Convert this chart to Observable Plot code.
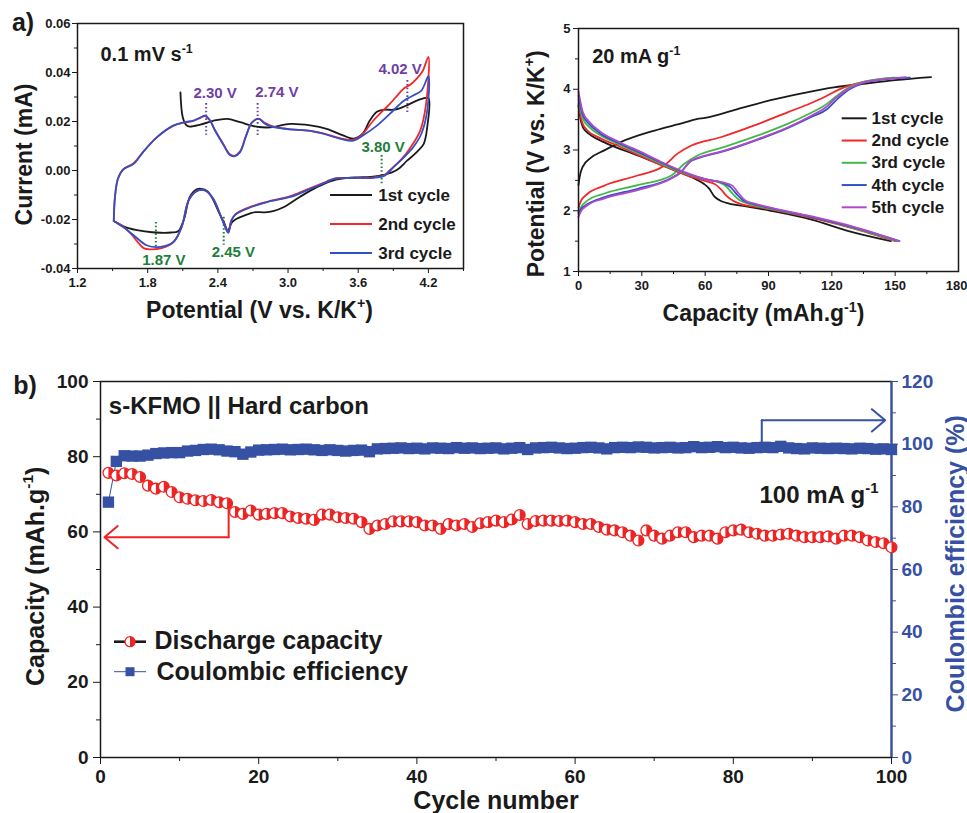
<!DOCTYPE html>
<html><head><meta charset="utf-8">
<script src="https://cdn.jsdelivr.net/npm/d3@7"></script>
<script src="https://cdn.jsdelivr.net/npm/@observablehq/plot@0.6"></script>
<style>
body{margin:0;background:#fff;}
#wrap{position:relative;width:967px;height:813px;background:#fff;}
#wrap > div{position:absolute;}
</style></head><body>
<div id="wrap">
<div id="pa" style="left:0;top:0;width:480px;height:330px"></div>
<div id="pb" style="left:480px;top:0;width:487px;height:330px"></div>
<div id="pc" style="left:0;top:345px;width:967px;height:468px"></div>
</div>
<script>
// ---------- Panel a (left): cyclic voltammetry ----------
const cvLabels = ["1st cycle", "2nd cycle", "3rd cycle"];
const cvColors = ["#1a1a1a", "#f0282a", "#3050c8"];
const cv1 = [[2.08,0.0319],[2.10,0.0217],[2.13,0.0185],[2.16,0.0179],[2.25,0.0187],[2.36,0.0203],[2.48,0.0211],[2.59,0.0197],[2.73,0.0179],[2.85,0.0176],[3.02,0.0190],[3.19,0.0184],[3.33,0.0170],[3.47,0.0143],[3.56,0.0130],[3.64,0.0152],[3.70,0.0205],[3.76,0.0240],[3.82,0.0248],[3.90,0.0248],[3.96,0.0255],[4.02,0.0267],[4.10,0.0285],[4.15,0.0293],[4.20,0.0296],
  [4.19,0.0178],[4.16,0.0109],[4.10,0.0075],[4.02,0.0041],[3.93,0.0002],[3.82,-0.0018],[3.70,-0.0026],[3.60,-0.0028],[3.50,-0.0031],[3.39,-0.0040],[3.25,-0.0067],[3.10,-0.0108],[2.96,-0.0150],[2.88,-0.0165],[2.80,-0.0171],[2.72,-0.0170],[2.62,-0.0185],[2.55,-0.0200],[2.52,-0.0212],[2.485,-0.0245],[2.455,-0.0215],[2.41,-0.0172],[2.36,-0.0120],[2.31,-0.0084],[2.26,-0.0075],[2.22,-0.0077],[2.16,-0.0108],[2.11,-0.0200],[2.06,-0.0248],[2.00,-0.0253],[1.91,-0.0254],[1.76,-0.0247],[1.62,-0.0233],[1.51,-0.0206]];
const cv2 = [[1.51,-0.0206],[1.52,-0.0110],[1.545,-0.0035],[1.59,0.0005],[1.68,0.0030],[1.76,0.0075],[1.88,0.0136],[2.02,0.0183],[2.11,0.0195],[2.19,0.0202],[2.25,0.0215],[2.29,0.0222],[2.33,0.0205],[2.38,0.0160],[2.45,0.0105],[2.50,0.0068],[2.54,0.0060],[2.59,0.0078],[2.64,0.0140],[2.69,0.0195],[2.745,0.0212],[2.80,0.0195],[2.87,0.0180],[3.02,0.0168],[3.19,0.0162],[3.30,0.0152],[3.45,0.0131],[3.55,0.0125],[3.62,0.0140],[3.73,0.0204],[3.87,0.0272],[3.95,0.0315],[3.99,0.0335],[4.05,0.0352],[4.10,0.0375],[4.15,0.0405],[4.20,0.0464],
  [4.18,0.0272],[4.13,0.0163],[4.04,0.0089],[3.96,0.0041],[3.87,0.0001],[3.82,-0.0020],[3.73,-0.0028],[3.53,-0.0030],[3.39,-0.0034],[3.33,-0.0045],[3.16,-0.0078],[3.02,-0.0105],[2.82,-0.0128],[2.65,-0.0153],[2.55,-0.0178],[2.515,-0.0205],[2.49,-0.0250],[2.46,-0.0225],[2.42,-0.0180],[2.36,-0.0115],[2.29,-0.0081],[2.22,-0.0083],[2.15,-0.0122],[2.09,-0.0231],[2.02,-0.0292],[1.91,-0.0318],[1.82,-0.0322],[1.77,-0.0318],[1.72,-0.0295],[1.66,-0.0260],[1.59,-0.0228],[1.51,-0.0206]];
const cv3 = [[1.51,-0.0206],[1.52,-0.0110],[1.545,-0.0035],[1.59,0.0004],[1.68,0.0027],[1.76,0.0075],[1.88,0.0136],[2.02,0.0183],[2.11,0.0197],[2.19,0.0204],[2.25,0.0216],[2.29,0.0224],[2.33,0.0207],[2.38,0.0160],[2.45,0.0103],[2.50,0.0064],[2.54,0.0058],[2.59,0.0075],[2.64,0.0140],[2.69,0.0195],[2.75,0.0211],[2.80,0.0192],[2.85,0.0180],[3.02,0.0168],[3.19,0.0162],[3.30,0.0150],[3.45,0.0129],[3.56,0.0122],[3.64,0.0143],[3.76,0.0183],[3.87,0.0231],[3.99,0.0285],[4.07,0.0306],[4.14,0.0326],[4.20,0.0385],
  [4.19,0.0245],[4.14,0.0150],[4.07,0.0095],[3.99,0.0054],[3.90,0.0013],[3.83,-0.0020],[3.73,-0.0030],[3.53,-0.0030],[3.39,-0.0034],[3.33,-0.0047],[3.16,-0.0081],[3.02,-0.0108],[2.82,-0.0129],[2.65,-0.0156],[2.55,-0.0180],[2.515,-0.0205],[2.49,-0.0255],[2.46,-0.0228],[2.42,-0.0180],[2.36,-0.0115],[2.29,-0.0081],[2.22,-0.0084],[2.15,-0.0122],[2.09,-0.0231],[2.02,-0.0292],[1.91,-0.0312],[1.79,-0.0305],[1.68,-0.0264],[1.59,-0.0231],[1.51,-0.0206]];
const cvTicksX = [1.2, 1.8, 2.4, 3.0, 3.6, 4.2];
const cvMinorX = [1.5, 2.1, 2.7, 3.3, 3.9, 4.5];
const cvTicksY = [-0.04, -0.02, 0, 0.02, 0.04, 0.06];
const cvMinorY = [-0.03, -0.01, 0.01, 0.03, 0.05];
// peak annotations
const annText = ["2.30 V", "2.74 V", "4.02 V", "3.80 V", "1.87 V", "2.45 V"];
const annV = [2.30, 2.74, 4.02, 3.80, 1.87, 2.45];
const annY1 = [0.0273, 0.0273, 0.0367, 0.0061, -0.0212, -0.0191];
const annY2 = [0.0144, 0.0136, 0.0236, -0.0061, -0.0326, -0.0305];
const annLabelV = [2.377, 2.904, 3.958, 3.813, 1.938, 2.533];
const annLabelI = [0.0315, 0.0319, 0.0414, 0.0095, -0.0366, -0.0332];
const annColor = ["#6f3fa6", "#6f3fa6", "#6f3fa6", "#1d7f3c", "#1d7f3c", "#1d7f3c"];

// ---------- Panel a (right): charge / discharge ----------
const gcdLabels = ["1st cycle", "2nd cycle", "3rd cycle", "4th cycle", "5th cycle"];
const gcdColors = ["#1a1a1a", "#f0282a", "#45b84a", "#3350c8", "#b04ac8"];
const chg1 = [[0,2.42],[0.5,2.55],[1.9,2.72],[5.8,2.87],[12,2.99],[20,3.13],[36,3.32],[50,3.45],[56,3.51],[60,3.53],[75,3.67],[91,3.82],[107,3.94],[121,4.03],[135,4.09],[150,4.15],[167,4.2]];
const chg2 = [[0,2.05],[1,2.15],[4.3,2.28],[12,2.41],[28,2.58],[40.5,2.74],[46.9,2.94],[53.2,3.07],[67.4,3.21],[83,3.40],[99,3.62],[110,3.77],[117,3.88],[123,3.99],[135,4.12],[142,4.16],[149.5,4.19]];
const chg3 = [[0,1.98],[1,2.05],[4.3,2.17],[12,2.28],[28,2.42],[44,2.58],[50,2.77],[56.4,2.91],[69,3.05],[85,3.24],[99,3.43],[110,3.61],[116,3.72],[122,3.88],[127,4.01],[135,4.12],[143,4.17],[151,4.19]];
const chg4 = [[0,1.96],[1,2.02],[4.3,2.11],[12,2.22],[28,2.36],[44,2.54],[48.5,2.64],[53,2.81],[56.4,2.86],[69,2.98],[85,3.17],[99,3.36],[110,3.54],[118,3.68],[123,3.85],[128,3.99],[137,4.12],[147,4.17],[157,4.19]];
const chg5 = [[0,1.90],[1,1.98],[4.3,2.09],[12,2.20],[28,2.34],[44,2.53],[48.5,2.63],[53,2.82],[56.4,2.87],[69,2.99],[85,3.18],[99,3.37],[110,3.56],[117,3.70],[122,3.86],[128,4.01],[136,4.12],[146,4.17],[155,4.20]];
const dis1 = [[0,3.73],[1,3.5],[2,3.38],[3.5,3.31],[6,3.24],[12,3.13],[28,2.91],[44,2.69],[56,2.51],[59.5,2.44],[62,2.36],[64.2,2.24],[67,2.17],[70,2.13],[78,2.08],[91,2.0],[110,1.86],[127.5,1.67],[148,1.5]];
const dis2 = [[0,3.76],[1,3.55],[2,3.43],[4,3.33],[10,3.2],[20,3.05],[30,2.89],[40,2.74],[50,2.6],[60,2.49],[65,2.43],[67.5,2.35],[70,2.25],[73,2.17],[77,2.11],[85,2.06],[100,1.96],[130,1.71],[150,1.5]];
const dis3 = [[0,3.84],[1,3.65],[2,3.52],[5,3.38],[10,3.25],[20,3.08],[30,2.92],[40,2.76],[50,2.62],[60,2.52],[67,2.46],[70,2.4],[73,2.28],[76,2.18],[80,2.12],[90,2.04],[110,1.9],[130,1.72],[151,1.5]];
const dis4 = [[0,3.9],[1,3.72],[2,3.58],[5,3.43],[10,3.28],[20,3.1],[30,2.94],[40,2.78],[50,2.63],[60,2.52],[69,2.45],[72,2.39],[75,2.27],[78,2.17],[82,2.12],[90,2.05],[110,1.9],[130,1.73],[152,1.5]];
const dis5 = [[0,3.96],[1,3.78],[2,3.63],[5,3.47],[10,3.31],[20,3.12],[30,2.96],[40,2.79],[50,2.64],[60,2.52],[70,2.45],[73,2.41],[76,2.28],[79,2.17],[83,2.12],[90,2.06],[110,1.91],[130,1.74],[152,1.5]];
const gcdTicksX = [0, 30, 60, 90, 120, 150];
const gcdLastTickX = [180];
const gcdMinorX = [15, 45, 75, 105, 135, 165];
const gcdTicksY = [1, 2, 3, 4, 5];
const gcdMinorY = [1.5, 2.5, 3.5, 4.5];

// ---------- Panel b: cycling ----------
const cycles = d3.range(1, 101);
const capacity = [75.7,75.0,75.6,75.4,74.6,72.3,71.5,72.0,70.6,69.2,
  68.8,68.4,68.2,68.5,67.9,67.6,65.3,64.8,65.7,64.6,
  64.8,65.0,65.0,64.1,63.7,63.5,63.2,64.6,64.6,63.9,
  63.7,63.5,62.6,60.8,61.7,62.1,62.8,62.8,62.8,62.6,
  61.7,61.7,60.8,62.1,61.7,62.1,61.3,62.3,62.6,63.0,
  62.6,63.3,64.5,62.1,62.9,63.0,63.0,62.9,63.0,62.6,
  62.1,62.1,61.3,60.6,60.4,59.9,59.0,57.7,60.4,59.0,
  58.2,59.0,59.9,59.9,58.6,59.0,59.0,58.2,59.9,60.4,
  60.6,59.9,59.5,59.0,59.0,59.3,59.5,59.0,58.6,58.6,
  58.6,58.8,58.2,59.0,59.0,58.6,57.7,57.3,57.0,55.9];
const efficiency = [81.5,94.5,96.3,96.2,96.2,96.5,97.0,97.2,97.3,97.3,
  97.8,98.0,98.3,98.4,98.2,97.8,97.6,96.8,97.5,98.1,
  98.2,98.3,98.4,98.2,98.3,98.4,98.2,98.0,98.2,98.0,
  97.8,98.0,98.1,97.6,98.5,98.6,98.7,98.8,98.6,98.7,
  98.5,98.8,98.7,98.6,98.9,98.7,98.8,98.6,98.7,98.8,
  98.5,98.7,98.9,98.3,98.8,98.9,99.0,98.8,98.6,98.7,
  98.9,99.0,98.8,98.5,98.9,99.0,98.9,99.1,99.0,98.8,
  98.9,99.0,98.8,98.9,99.2,98.9,99.0,99.2,98.9,99.0,
  98.8,98.7,98.9,99.0,98.9,99.3,98.8,98.6,98.5,98.8,
  98.7,98.6,98.7,98.6,98.5,98.7,98.6,98.4,98.5,98.3];
const capTicks = [0, 20, 40, 60, 80, 100];
const capMinor = [10, 30, 50, 70, 90];
const cycTicks = [0, 20, 40, 60, 80, 100];
const cycMinor = [10, 30, 50, 70, 90];
const ceTicks = [0, 20, 40, 60, 80, 100, 120];
const ceMinor = [10, 30, 50, 70, 90, 110];
const ceMax = 120, capMax = 100;
const capArrow = {x: 16.2, yTop: 66.6, yBottom: 58.6, xEnd: 0.5};
const ceArrow = {x: 83.6, yBottom: 100.4, yTop: 107.6, xEnd: 99.2};

const RED = "#ee2424", BLUE = "#3651a3", INK = "#1a1a1a";
const FONT = '"Liberation Sans", Arial, Helvetica, sans-serif';
const style = fs => ({fontFamily: FONT, fontSize: fs + "px", fontWeight: "bold", color: INK, overflow: "visible", background: "transparent"});
const toCap = v => v * capMax / ceMax;
// a text placed against the frame (screen offsets), vertically centred on its anchor
const label = (t, o) => Plot.text([t], {text: d => d, lineAnchor: "middle", fill: INK, ...o});

function supers(svg) {
  d3.select(svg).selectAll("text").each(function() {
    const t = this.textContent;
    if (!t.includes("^")) return;
    const [a, s, b] = t.split("^");
    const fs = parseFloat(getComputedStyle(this).fontSize);
    const sel = d3.select(this);
    sel.text(null);
    sel.append("tspan").text(a);
    sel.append("tspan").attr("dy", -0.42 * fs).attr("font-size", 0.62 * fs).text(s);
    if (b) sel.append("tspan").attr("dy", 0.42 * fs).text(b);
  });
}
function legendLine(svg, x1, x2, y, color, w) {
  d3.select(svg).append("line").attr("x1", x1).attr("x2", x2).attr("y1", y).attr("y2", y)
    .attr("stroke", color).attr("stroke-width", w);
}
const halfSymbol = {draw(ctx, size) { const r = Math.sqrt(size / Math.PI); ctx.moveTo(0, -r); ctx.arc(0, 0, r, -Math.PI / 2, Math.PI / 2); ctx.closePath(); }};

// ================= Panel A =================
const A = Plot.plot({
  width: 480, height: 330, marginLeft: 77, marginRight: 17, marginTop: 23, marginBottom: 62,
  x: {domain: [1.2, 4.5]}, y: {domain: [-0.04, 0.06]},
  color: {type: "identity"},
  style: style(13),
  marks: [
    Plot.axisY({ticks: cvMinorY, tickSize: 3, tickFormat: () => "", label: null}),
    Plot.axisY({ticks: cvTicksY, tickSize: 5, tickPadding: 2, tickFormat: d => d.toFixed(2), label: null}),
    Plot.axisX({ticks: cvMinorX, tickSize: 3, tickFormat: () => "", label: null}),
    Plot.axisX({ticks: cvTicksX, tickSize: 5, tickPadding: 4, tickFormat: d => d.toFixed(1), label: null}),
    Plot.ruleX(d3.range(annV.length), {x: i => annV[i], y1: i => annY1[i], y2: i => annY2[i], stroke: i => annColor[i], strokeWidth: 2, strokeDasharray: "1.6 2.2"}),
    ...[cv1, cv2, cv3].map((s, k) => Plot.line(s, {x: d => d[0], y: d => d[1], stroke: cvColors[k], strokeWidth: 1.8, curve: "catmull-rom"})),
    Plot.text(d3.range(annText.length), {x: i => annLabelV[i], y: i => annLabelI[i], text: i => annText[i], fill: i => annColor[i], fontSize: 15, fontWeight: "bold"}),
    label("0.1 mV s^-1^", {frameAnchor: "top-left", dx: 23, dy: 31, textAnchor: "start", fontSize: 20}),
    ...cvLabels.map((t, i) => label(t, {frameAnchor: "top-left", dx: 300.7, dy: 172.3 + 29 * i, textAnchor: "start", fontSize: 17})),
    label("Current (mA)", {frameAnchor: "left", rotate: -90, textAnchor: "middle", dx: -53, dy: 8.5, fontSize: 23}),
    label("Potential (V vs. K/K^+^)", {frameAnchor: "bottom", textAnchor: "middle", dx: -11, dy: 41.7, fontSize: 23}),
    label("a)", {frameAnchor: "top-left", dx: -65.6, dy: -0.7, textAnchor: "start", fontSize: 25}),
    Plot.frame({stroke: INK, strokeWidth: 1.5})
  ]
});
document.getElementById("pa").append(A);
supers(A);
cvLabels.forEach((t, i) => legendLine(A, 330, 372, 195 + 29 * i, cvColors[i], 2));

// ================= Panel B =================
const B = Plot.plot({
  width: 487, height: 330, marginLeft: 98, marginRight: 9, marginTop: 28, marginBottom: 59,
  x: {domain: [0, 180]}, y: {domain: [1, 5]},
  style: style(13),
  marks: [
    Plot.axisY({ticks: gcdMinorY, tickSize: 3, tickFormat: () => "", label: null}),
    Plot.axisY({ticks: gcdTicksY, tickSize: 5, tickPadding: 3, tickFormat: d => String(d), label: null}),
    Plot.axisX({ticks: gcdMinorX, tickSize: 3, tickFormat: () => "", label: null}),
    Plot.axisX({ticks: gcdTicksX, tickSize: 5, tickPadding: 4, tickFormat: d => String(d), label: null}),
    Plot.axisX({ticks: gcdLastTickX, tickSize: 5, tickPadding: 4, tickFormat: d => String(d), textAnchor: "end", dx: 9, label: null}),
    ...[chg1, chg2, chg3, chg4, chg5].map((s, k) => Plot.line(s, {x: d => d[0], y: d => d[1], stroke: gcdColors[k], strokeWidth: 1.8, curve: "monotone-x"})),
    ...[dis1, dis2, dis3, dis4, dis5].map((s, k) => Plot.line(s, {x: d => d[0], y: d => d[1], stroke: gcdColors[k], strokeWidth: 1.8, curve: "monotone-x"})),
    label("20 mA g^-1^", {frameAnchor: "top-left", dx: 13.7, dy: 28.4, textAnchor: "start", fontSize: 20}),
    ...gcdLabels.map((t, i) => label(t, {frameAnchor: "top-left", dx: 293, dy: 90 + 22.25 * i, textAnchor: "start", fontSize: 17})),
    label("Potential (V vs. K/K^+^)", {frameAnchor: "left", rotate: -90, textAnchor: "middle", dx: -42, dy: 13.8, fontSize: 23}),
    label("Capacity (mAh.g^-1^)", {frameAnchor: "bottom", textAnchor: "middle", dx: -5, dy: 42.6, fontSize: 23}),
    Plot.frame({stroke: INK, strokeWidth: 1.5})
  ]
});
document.getElementById("pb").append(B);
supers(B);
gcdLabels.forEach((t, i) => legendLine(B, 361.7, 386.7, 118.3 + 22.25 * i, gcdColors[i], 2));

// ================= Panel C =================
const C = Plot.plot({
  width: 967, height: 468, marginLeft: 100, marginRight: 76, marginTop: 36, marginBottom: 56,
  x: {domain: [0, 100]}, y: {domain: [0, capMax]},
  style: style(19),
  marks: [
    Plot.axisY({ticks: capMinor, tickSize: 4, tickFormat: () => "", label: null}),
    Plot.axisY({ticks: capTicks, tickSize: 7, tickPadding: 5, tickFormat: d => String(d), label: null}),
    Plot.axisX({ticks: cycMinor, tickSize: 4, tickFormat: () => "", label: null}),
    Plot.axisX({ticks: cycTicks, tickSize: 7, tickPadding: 5, tickFormat: d => String(d), label: null}),
    Plot.axisY({anchor: "right", ticks: ceMinor.map(toCap), tickSize: 4, tickFormat: () => "", color: BLUE, label: null}),
    Plot.axisY({anchor: "right", ticks: ceTicks.map(toCap), tickSize: 6, tickPadding: 4, tickFormat: d => String(Math.round(d * ceMax / capMax)), color: BLUE, label: null}),
    Plot.frame({stroke: INK, strokeWidth: 1.5}),
    Plot.ruleX([100], {stroke: BLUE, strokeWidth: 2.2}),
    Plot.line(efficiency, {x: (d, i) => cycles[i], y: d => toCap(d), stroke: BLUE, strokeWidth: 1}),
    Plot.dot(efficiency, {x: (d, i) => cycles[i], y: d => toCap(d), symbol: "square", r: 6.4, fill: BLUE}),
    Plot.line(capacity, {x: (d, i) => cycles[i], y: d => d, stroke: RED, strokeWidth: 1}),
    Plot.dot(capacity, {x: (d, i) => cycles[i], y: d => d, r: 5.4, fill: "white", stroke: RED, strokeWidth: 1.3, ariaDescription: "cap-open"}),
    Plot.dot(capacity, {x: (d, i) => cycles[i], y: d => d, r: 5.4, symbol: halfSymbol, fill: RED, ariaDescription: "cap-half"}),
    Plot.line([[capArrow.x, capArrow.yTop], [capArrow.x, capArrow.yBottom]], {x: d => d[0], y: d => d[1], stroke: RED, strokeWidth: 2}),
    Plot.arrow([capArrow], {x1: d => d.x, y1: d => d.yBottom, x2: d => d.xEnd, y2: d => d.yBottom, stroke: RED, strokeWidth: 2, headLength: 13, headAngle: 80}),
    Plot.line([[ceArrow.x, toCap(ceArrow.yBottom)], [ceArrow.x, toCap(ceArrow.yTop)]], {x: d => d[0], y: d => d[1], stroke: BLUE, strokeWidth: 2}),
    Plot.arrow([ceArrow], {x1: d => d.x, y1: d => toCap(d.yTop), x2: d => d.xEnd, y2: d => toCap(d.yTop), stroke: BLUE, strokeWidth: 2, headLength: 13, headAngle: 80}),
    label("b)", {frameAnchor: "top-left", dx: -87.3, dy: 4.8, textAnchor: "start", fontSize: 25}),
    label("s-KFMO || Hard carbon", {frameAnchor: "top-left", dx: 8.3, dy: 24.8, textAnchor: "start", fontSize: 24}),
    label("100 mA g^-1^", {frameAnchor: "top-right", dx: -13, dy: 114, textAnchor: "end", fontSize: 24}),
    label("Discharge capacity", {frameAnchor: "top-left", dx: 54, dy: 259.5, textAnchor: "start", fontSize: 25}),
    label("Coulombic efficiency", {frameAnchor: "top-left", dx: 56, dy: 290.7, textAnchor: "start", fontSize: 25}),
    label("Capacity (mAh.g^-1^)", {frameAnchor: "left", rotate: -90, textAnchor: "middle", dx: -65, dy: 6.8, fontSize: 25}),
    label("Coulombic efficiency (%)", {frameAnchor: "right", rotate: -90, textAnchor: "middle", dx: 64.3, dy: -5.7, fontSize: 25, fill: BLUE}),
    label("Cycle number", {frameAnchor: "bottom", textAnchor: "middle", dx: 0, dy: 43, fontSize: 25})
  ]
});
document.getElementById("pc").append(C);
supers(C);
// interleave open circles and half fills so each point is drawn as one unit
(function interleave(svg) {
  const gA = svg.querySelector('g[aria-description="cap-open"]');
  const gB = svg.querySelector('g[aria-description="cap-half"]');
  if (!gA || !gB) return;
  const a = [...gA.children], b = [...gB.children];
  for (const [g, els] of [[gA, a], [gB, b]]) {
    for (const attr of ["fill", "stroke", "stroke-width"]) {
      const v = g.getAttribute(attr);
      els.forEach(e => { if (!e.hasAttribute(attr)) e.setAttribute(attr, v == null ? (attr === "stroke" ? "none" : v) : v); });
    }
  }
  a.forEach((e, i) => { gA.appendChild(e); if (b[i]) gA.appendChild(b[i]); });
})(C);
// legend swatches
legendLine(C, 114, 146, 296.7, INK, 2.6);
d3.select(C).append("circle").attr("cx", 130).attr("cy", 296.7).attr("r", 5).attr("fill", "white").attr("stroke", RED).attr("stroke-width", 1.3);
d3.select(C).append("path").attr("transform", "translate(130,296.7)").attr("d", "M0,-5A5,5 0 0 1 0,5Z").attr("fill", RED);
legendLine(C, 114, 146, 326.7, BLUE, 1);
d3.select(C).append("rect").attr("x", 125.5).attr("y", 322.2).attr("width", 9).attr("height", 9).attr("fill", BLUE);
</script>
</body></html>
